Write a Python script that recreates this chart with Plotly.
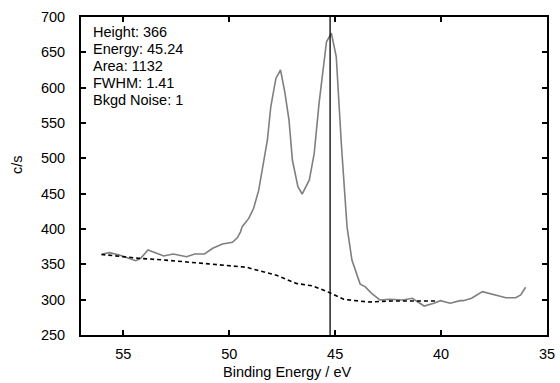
import plotly.graph_objects as go

# Spectrum (binding energy in eV, counts per second)
spec_ev = [56.0, 55.65, 55.19, 54.73, 54.42, 54.18, 53.84, 53.49, 53.1, 52.64, 52.02, 51.63, 51.17,
           50.78, 50.32, 49.85, 49.62, 49.47, 49.39, 49.08, 48.85, 48.61, 48.38, 48.2, 48.04, 47.8,
           47.58, 47.38, 47.18, 47.02, 46.76, 46.56, 46.22, 45.99, 45.76, 45.41, 45.18, 44.95, 44.7,
           44.52, 44.44, 44.21, 43.82, 43.59, 43.28, 42.89, 42.43, 41.81, 41.35, 41.11, 40.8, 40.34,
           40.03, 39.57, 39.1, 38.95, 38.56, 38.05, 37.71, 37.25, 36.94, 36.48, 36.24, 36.01]
spec_cps = [364.6, 366.5, 363.2, 358.5, 355.2, 358.5, 370.3, 366.5, 361.8, 364.6, 360.8, 364.6, 364.6,
            372.7, 378.8, 381.2, 387.5, 396, 403.3, 415, 429.3, 455, 493, 526, 573, 613,
            625, 594, 554, 497.6, 460, 449.5, 469.4, 507, 578, 665, 677, 644, 516,
            441, 403, 356, 322, 318.4, 309, 299.6, 300.5, 299.6, 302, 297, 291, 295,
            298.6, 295, 298.6, 298.6, 302, 311.3, 309, 305.6, 302.8, 302.8, 306.6, 317.5]

# Background (dashed)
bkg_ev = [56.04, 55.35, 54.26, 53.02, 52.56, 51.33, 50.24, 49.62, 49.16, 48.85, 47.77, 46.84, 46.06,
          45.37, 44.6, 43.44, 42.35, 40.19]
bkg_cps = [364, 361.8, 358.5, 356, 354.7, 351.5, 349, 346.5, 345.8, 343, 334.5, 323, 319.4,
           311.3, 300.5, 296.7, 298.1, 298.1]

peak_energy = 45.24
info_lines = ["Height: 366", "Energy: 45.24", "Area: 1132", "FWHM: 1.41", "Bkgd Noise: 1"]

x_ticks = [55, 50, 45, 40, 35]
y_ticks = [250, 300, 350, 400, 450, 500, 550, 600, 650, 700]

FAM = "Liberation Sans, Arial, sans-serif"
FS = 14.5

fig = go.Figure()
fig.add_trace(go.Scatter(x=spec_ev, y=spec_cps, mode="lines",
                         line=dict(color="#7f7f7f", width=1.6), showlegend=False))
fig.add_trace(go.Scatter(x=bkg_ev, y=bkg_cps, mode="lines",
                         line=dict(color="black", width=1.6, dash="4px,3px"), showlegend=False))
fig.add_shape(type="line", x0=peak_energy, x1=peak_energy, y0=0, y1=1, yref="paper",
              line=dict(color="black", width=1.3))

# info box: one annotation per line to control line spacing (~17 px)
plot_top, plot_h = 17, 318
for i, line in enumerate(info_lines):
    ypix = 32 + i * 17
    fig.add_annotation(x=0, y=(plot_top + plot_h - ypix) / plot_h, xref="paper", yref="paper",
                       xanchor="left", yanchor="middle", xshift=10, showarrow=False,
                       text=line, font=dict(family=FAM, size=FS, color="black"))

# axis titles as annotations (positioned like the reference)
fig.add_annotation(x=(291 - 81) / 474, y=0, xref="paper", yref="paper", xanchor="center",
                   yanchor="middle", yshift=-(372 - 335), showarrow=False,
                   text="Binding Energy / eV", font=dict(family=FAM, size=FS, color="black"))
fig.add_annotation(x=0, y=(335 - 165) / 318, xref="paper", yref="paper", xanchor="center",
                   yanchor="middle", xshift=-(81 - 17), textangle=-90, showarrow=False,
                   text="c/s", font=dict(family=FAM, size=FS, color="black"))

font = dict(family=FAM, size=FS, color="black")
fig.update_layout(
    width=560, height=383,
    margin=dict(l=81, r=5, t=17, b=48),
    paper_bgcolor="white", plot_bgcolor="white",
    font=font,
    xaxis=dict(range=[57, 35], tickvals=x_ticks, ticks="inside", ticklen=5, tickwidth=2,
               tickcolor="black", showline=True, linecolor="black", linewidth=2, mirror="ticks",
               showgrid=False, zeroline=False, ticklabelstandoff=5, ticklabeloverflow="allow"),
    yaxis=dict(range=[250, 700], tickvals=y_ticks, ticks="inside", ticklen=5, tickwidth=2,
               tickcolor="black", showline=True, linecolor="black", linewidth=2, mirror="ticks",
               showgrid=False, zeroline=False, ticklabelstandoff=11, ticklabeloverflow="allow"),
)

fig.write_html("out.html")
